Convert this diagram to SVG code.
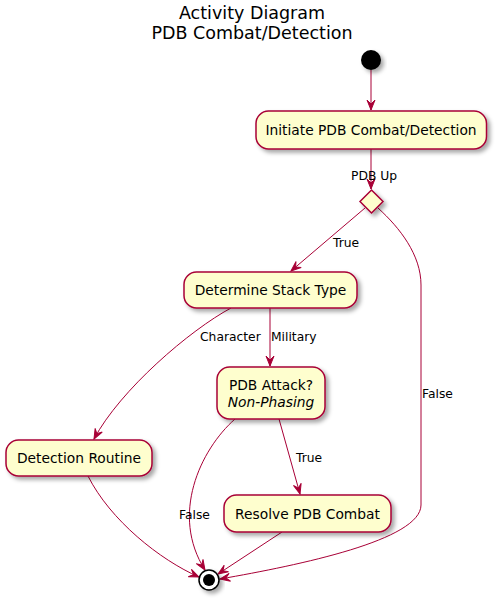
<svg xmlns="http://www.w3.org/2000/svg" width="504" height="603" viewBox="0 0 504 603">
<defs>
<filter id="sh" x="-20%" y="-20%" width="150%" height="160%">
<feDropShadow dx="3" dy="3" stdDeviation="2" flood-color="#000" flood-opacity="0.35"/>
</filter>
<marker id="ah" viewBox="-11 -5 12 10" refX="0" refY="0" markerWidth="12" markerHeight="10" markerUnits="userSpaceOnUse" orient="auto">
<path d="M0,0 L-10,-4 L-6,0 L-10,4 Z" fill="#A80036" stroke="#A80036" stroke-width="1"/>
</marker>
</defs>
<style>
text{font-family:"DejaVu Sans","Liberation Sans",sans-serif;fill:#000}
.t{font-size:17.5px;text-anchor:middle}
.n{font-size:13.8px;text-anchor:middle}
.l{font-size:12.3px}
.box{fill:#FEFECE;stroke:#A80036;stroke-width:1.5;filter:url(#sh)}
.e{fill:none;stroke:#A80036;stroke-width:1;marker-end:url(#ah)}
</style>
<rect width="504" height="603" fill="#fff"/>
<g id="title">
<text class="t" x="252" y="19">Activity Diagram</text>
<text class="t" x="252" y="38.5">PDB Combat/Detection</text>
</g>
<g id="connectors">
<path class="e" d="M371,70 L371,110"/>
<path class="e" d="M371,149 L371,189"/>
<text class="l" x="351" y="180">PDB Up</text>
<path class="e" d="M365,208 L291,271"/>
<text class="l" x="333" y="247">True</text>
<path class="e" d="M378,208 C400,228 421,255 421,285 L421,505 C421,540 300,565 220,579"/>
<text class="l" x="422" y="398">False</text>
<path class="e" d="M270,308 L270,366"/>
<text class="l" x="271" y="341">Military</text>
<path class="e" d="M231,308 C190,330 120,390 94,439"/>
<text class="l" x="200" y="341">Character</text>
<path class="e" d="M88,476 C110,520 160,560 199,577"/>
<path class="e" d="M235,419 C200,450 170,515 205,570"/>
<text class="l" x="179" y="519">False</text>
<path class="e" d="M279,419 L300,494"/>
<text class="l" x="296" y="462">True</text>
<path class="e" d="M282,532 L218,574"/>
</g>
<g id="start"><circle cx="371" cy="60" r="10" fill="#000" filter="url(#sh)"/></g>
<g id="initiate">
<rect class="box" x="256" y="111" width="230.5" height="38" rx="12.5"/>
<text class="n" x="371" y="135">Initiate PDB Combat/Detection</text>
</g>
<g id="decision"><polygon class="box" points="371.5,190 383,201.5 371.5,213 360,201.5"/></g>
<g id="determine">
<rect class="box" x="184" y="272" width="173" height="36" rx="12.5"/>
<text class="n" x="270.5" y="295">Determine Stack Type</text>
</g>
<g id="attack">
<rect class="box" x="217" y="367" width="108" height="52" rx="12.5"/>
<text class="n" x="271" y="390">PDB Attack?</text>
<text class="n" x="271" y="406.5" font-style="italic">Non-Phasing</text>
</g>
<g id="detection">
<rect class="box" x="6" y="440" width="146" height="36" rx="12.5"/>
<text class="n" x="79" y="463">Detection Routine</text>
</g>
<g id="resolve">
<rect class="box" x="224" y="495" width="167" height="37" rx="12.5"/>
<text class="n" x="307.5" y="518.5">Resolve PDB Combat</text>
</g>
<g id="end">
<circle cx="209" cy="580" r="10" fill="#fff" stroke="#000" stroke-width="1.5" filter="url(#sh)"/>
<circle cx="209" cy="580" r="6" fill="#000"/>
</g>
</svg>
